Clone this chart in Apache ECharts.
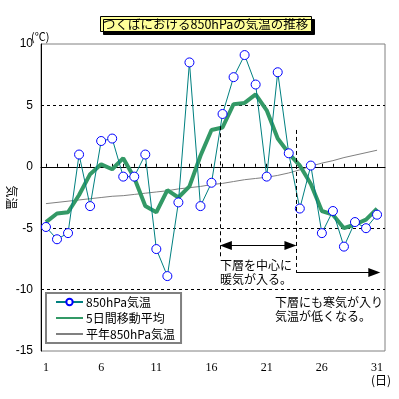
<!DOCTYPE html>
<html>
<head>
<meta charset="utf-8">
<script src="https://cdn.jsdelivr.net/npm/echarts@6/dist/echarts.min.js"></script>
<style>
  html, body { margin: 0; padding: 0; background: #fff; }
  #main { width: 399px; height: 399px; }
</style>
</head>
<body>
<div id="main"></div>
<script>
// 日付
var days = [1, 2, 3, 4, 5, 6, 7, 8, 9, 10, 11, 12, 13, 14, 15, 16,
            17, 18, 19, 20, 21, 22, 23, 24, 25, 26, 27, 28, 29, 30, 31];
var dayLabels = [1, 6, 11, 16, 21, 26, 31];

// 850hPa気温
var temp850 = [-4.9, -5.9, -5.4, 1.0, -3.2, 2.1, 2.3, -0.8, -0.8, 1.0, -6.7, -8.9, -2.9, 8.5, -3.2, -1.3,
               4.3, 7.3, 9.1, 6.7, -0.8, 7.7, 1.1, -3.4, 0.1, -5.4, -3.6, -6.5, -4.5, -5.0, -3.9];
// 5日間移動平均
var avg5 = [-4.5, -3.8, -3.7, -2.3, -0.6, 0.2, -0.2, 0.7, -0.9, -3.2, -3.7, -1.9, -2.5, -1.6, 0.9, 3.0,
            3.2, 5.1, 5.2, 5.9, 4.6, 2.3, 1.1, 0.1, -1.4, -3.6, -3.9, -5.0, -4.7, -4.3, -3.4];
// 平年850hPa気温
var normal850 = [-3.0, -2.9, -2.8, -2.7, -2.6, -2.5, -2.4, -2.35, -2.25, -2.15, -2.05, -1.95, -1.8, -1.7, -1.6, -1.45,
                 -1.35, -1.2, -1.05, -0.95, -0.85, -0.7, -0.5, -0.25, 0.05, 0.3, 0.5, 0.75, 0.95, 1.15, 1.35];

var jp = '"Noto Sans CJK JP", sans-serif';

function pairs(vals) {
  return days.map(function (d, i) { return [d, vals[i]]; });
}

var chart = echarts.init(document.getElementById('main'), null, { renderer: 'canvas' });

var option = {
  backgroundColor: '#ffffff',
  animation: false,
  title: {
    text: 'つくばにおける850hPaの気温の推移',
    left: 100,
    top: 16,
    padding: [2, 3, 1, 3],
    backgroundColor: '#ffff99',
    borderColor: '#000',
    borderWidth: 1,
    shadowColor: '#000',
    shadowBlur: 0,
    shadowOffsetX: 3,
    shadowOffsetY: 3,
    textStyle: { fontFamily: jp, fontSize: 12.5, fontWeight: 'normal', color: '#000' }
  },
  legend: {
    orient: 'vertical',
    left: 46,
    top: 293,
    padding: [3, 6, 3, 9],
    itemGap: 4,
    itemWidth: 27,
    itemHeight: 8,
    backgroundColor: '#fff',
    borderColor: '#808080',
    borderWidth: 2,
    borderRadius: 0,
    textStyle: { fontFamily: jp, fontSize: 12, color: '#000', padding: [0, 0, 0, -2] },
    data: [
      { name: '850hPa気温' },
      { name: '5日間移動平均', itemStyle: { opacity: 0 } },
      { name: '平年850hPa気温', itemStyle: { opacity: 0 } }
    ]
  },
  grid: {
    left: 41, right: 14, top: 44, bottom: 48,
    outerBoundsMode: 'none',
    containLabel: false,
    show: true,
    borderColor: '#808080',
    borderWidth: 1,
    backgroundColor: '#fff'
  },
  xAxis: {
    type: 'value',
    min: 0.55,
    max: 31.72,
    axisLine: { lineStyle: { color: '#000', width: 1 } },
    axisTick: { show: true, inside: true, length: 3, customValues: days, lineStyle: { color: '#000' } },
    axisLabel: {
      customValues: dayLabels, margin: 11, color: '#000',
      fontFamily: '"Liberation Serif", serif', fontSize: 12
    },
    splitLine: { show: false }
  },
  yAxis: {
    type: 'value',
    min: -15,
    max: 10,
    interval: 5,
    name: '気温',
    nameLocation: 'middle',
    nameRotate: -90,
    nameGap: 29,
    nameMoveOverlap: false,
    nameTextStyle: { fontFamily: jp, fontSize: 12, color: '#000', align: 'center', verticalAlign: 'middle' },
    axisLine: { show: true, lineStyle: { color: '#000', width: 1 } },
    axisTick: { show: false },
    axisLabel: { margin: 8, color: '#000', fontFamily: '"Liberation Sans", sans-serif', fontSize: 12 },
    splitLine: {
      show: true, showMinLine: false, showMaxLine: false,
      lineStyle: { color: '#000', type: [3, 3], width: 1 }
    }
  },
  graphic: [
    { type: 'text', left: 31, top: 31, style: { text: '(℃)', font: '11px ' + jp, fill: '#000' } },
    { type: 'text', left: 371, top: 374, style: { text: '(日)', font: '12px ' + jp, fill: '#000' } },
    { type: 'text', left: 220, top: 258, style: { text: '下層を中心に\n暖気が入る。', font: '12px ' + jp, fill: '#000', lineHeight: 14 } },
    { type: 'text', left: 275, top: 295, style: { text: '下層にも寒気が入り\n気温が低くなる。', font: '12px ' + jp, fill: '#000', lineHeight: 14 } }
  ],
  series: [
    {
      name: '平年850hPa気温',
      type: 'line',
      z: 1,
      data: pairs(normal850),
      symbol: 'none',
      lineStyle: { color: '#808080', width: 1 },
      itemStyle: { color: '#808080' },
      markLine: {
        silent: true,
        animation: false,
        label: { show: false },
        symbol: 'none',
        lineStyle: { color: '#000', width: 1, type: [4, 3] },
        data: [
          [{ coord: [16.78, 3.3] }, { coord: [16.78, -7.4] }],
          [{ coord: [23.67, 3.0] }, { coord: [23.67, -8.6] }],
          [
            { coord: [17.3, -6.4], symbol: 'triangle', symbolSize: [9, 12], lineStyle: { type: 'solid', width: 1 } },
            { coord: [23.15, -6.4], symbol: 'triangle', symbolSize: [9, 12] }
          ],
          [
            { coord: [23.67, -8.6], symbol: 'none', lineStyle: { type: 'solid', width: 1 } },
            { coord: [30.75, -8.6], symbol: 'triangle', symbolSize: [9, 12] }
          ]
        ]
      }
    },
    {
      name: '5日間移動平均',
      type: 'line',
      z: 2,
      data: pairs(avg5),
      symbol: 'none',
      lineStyle: { color: '#339966', width: 4 },
      itemStyle: { color: '#339966' }
    },
    {
      name: '850hPa気温',
      type: 'line',
      z: 3,
      data: pairs(temp850),
      symbol: 'circle',
      symbolSize: 9,
      showAllSymbol: true,
      lineStyle: { color: '#008080', width: 1 },
      itemStyle: { color: '#ffffff', borderColor: '#0000ff', borderWidth: 1 }
    }
  ]
};

chart.setOption(option);
</script>
</body>
</html>
